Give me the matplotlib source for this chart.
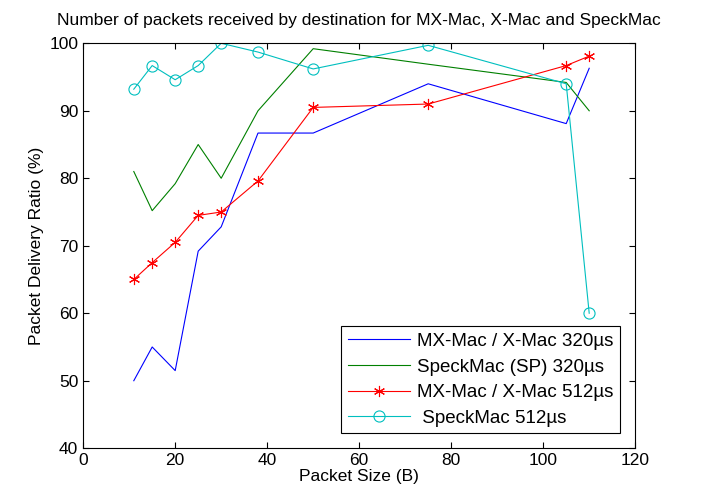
import matplotlib.pyplot as plt

plt.rcParams['font.family'] = ['Liberation Sans', 'DejaVu Sans']

# packet sizes (B)
size = [11, 15, 20, 25, 30, 38, 50, 75, 105, 110]

mx_320 = [50, 55, 51.5, 69.2, 72.8, 86.7, 86.7, 94, 88.1, 96.3]
speck_320 = [81, 75.2, 79.2, 85, 80, 90, 99.2, 96.9, 94.2, 90]
mx_512 = [65, 67.5, 70.5, 74.5, 75, 79.6, 90.5, 91, 96.7, 98.1]
speck_512 = [93.2, 96.7, 94.6, 96.7, 100, 98.7, 96.2, 99.7, 94, 60]

labels = ['MX-Mac / X-Mac 320µs', 'SpeckMac (SP) 320µs',
          'MX-Mac / X-Mac 512µs', ' SpeckMac 512µs']

fig = plt.figure(figsize=(7.05, 4.92), dpi=100)
ax = fig.add_axes([0.118, 0.089, 0.783, 0.823])

ax.plot(size, mx_320, color='#0000ff', lw=0.8, label=labels[0])
ax.plot(size, speck_320, color='#008000', lw=0.8, label=labels[1])
ax.plot(size, mx_512, color='#ff0000', lw=0.8, marker=(6, 2, 0), ms=8,
        mew=0.8, label=labels[2])
ax.plot(size, speck_512, color='#00bfbf', lw=0.8, marker='o', ms=8,
        mfc='none', mew=0.8, label=labels[3])

ax.set_xlim(0, 120)
ax.set_ylim(40, 100)
ax.set_xticks(range(0, 121, 20))
ax.set_yticks(range(40, 101, 10))
ax.tick_params(direction='in', top=True, right=True, labelsize=12.5, length=4)
ax.set_xlabel('Packet Size (B)', fontsize=12.5, labelpad=1)
ax.set_ylabel('Packet Delivery Ratio (%)', fontsize=12.5)
ax.set_title('Number of packets received by destination for MX-Mac, X-Mac and SpeckMac',
             fontsize=12.5, pad=13)

leg = ax.legend(loc='lower right', fontsize=13.5, fancybox=False, framealpha=1,
                edgecolor='black', borderaxespad=0.8, handlelength=3.3,
                labelspacing=0.45, borderpad=0.35, handletextpad=0.4)
leg.get_frame().set_linewidth(0.8)

fig.savefig('out.png', dpi=100)
